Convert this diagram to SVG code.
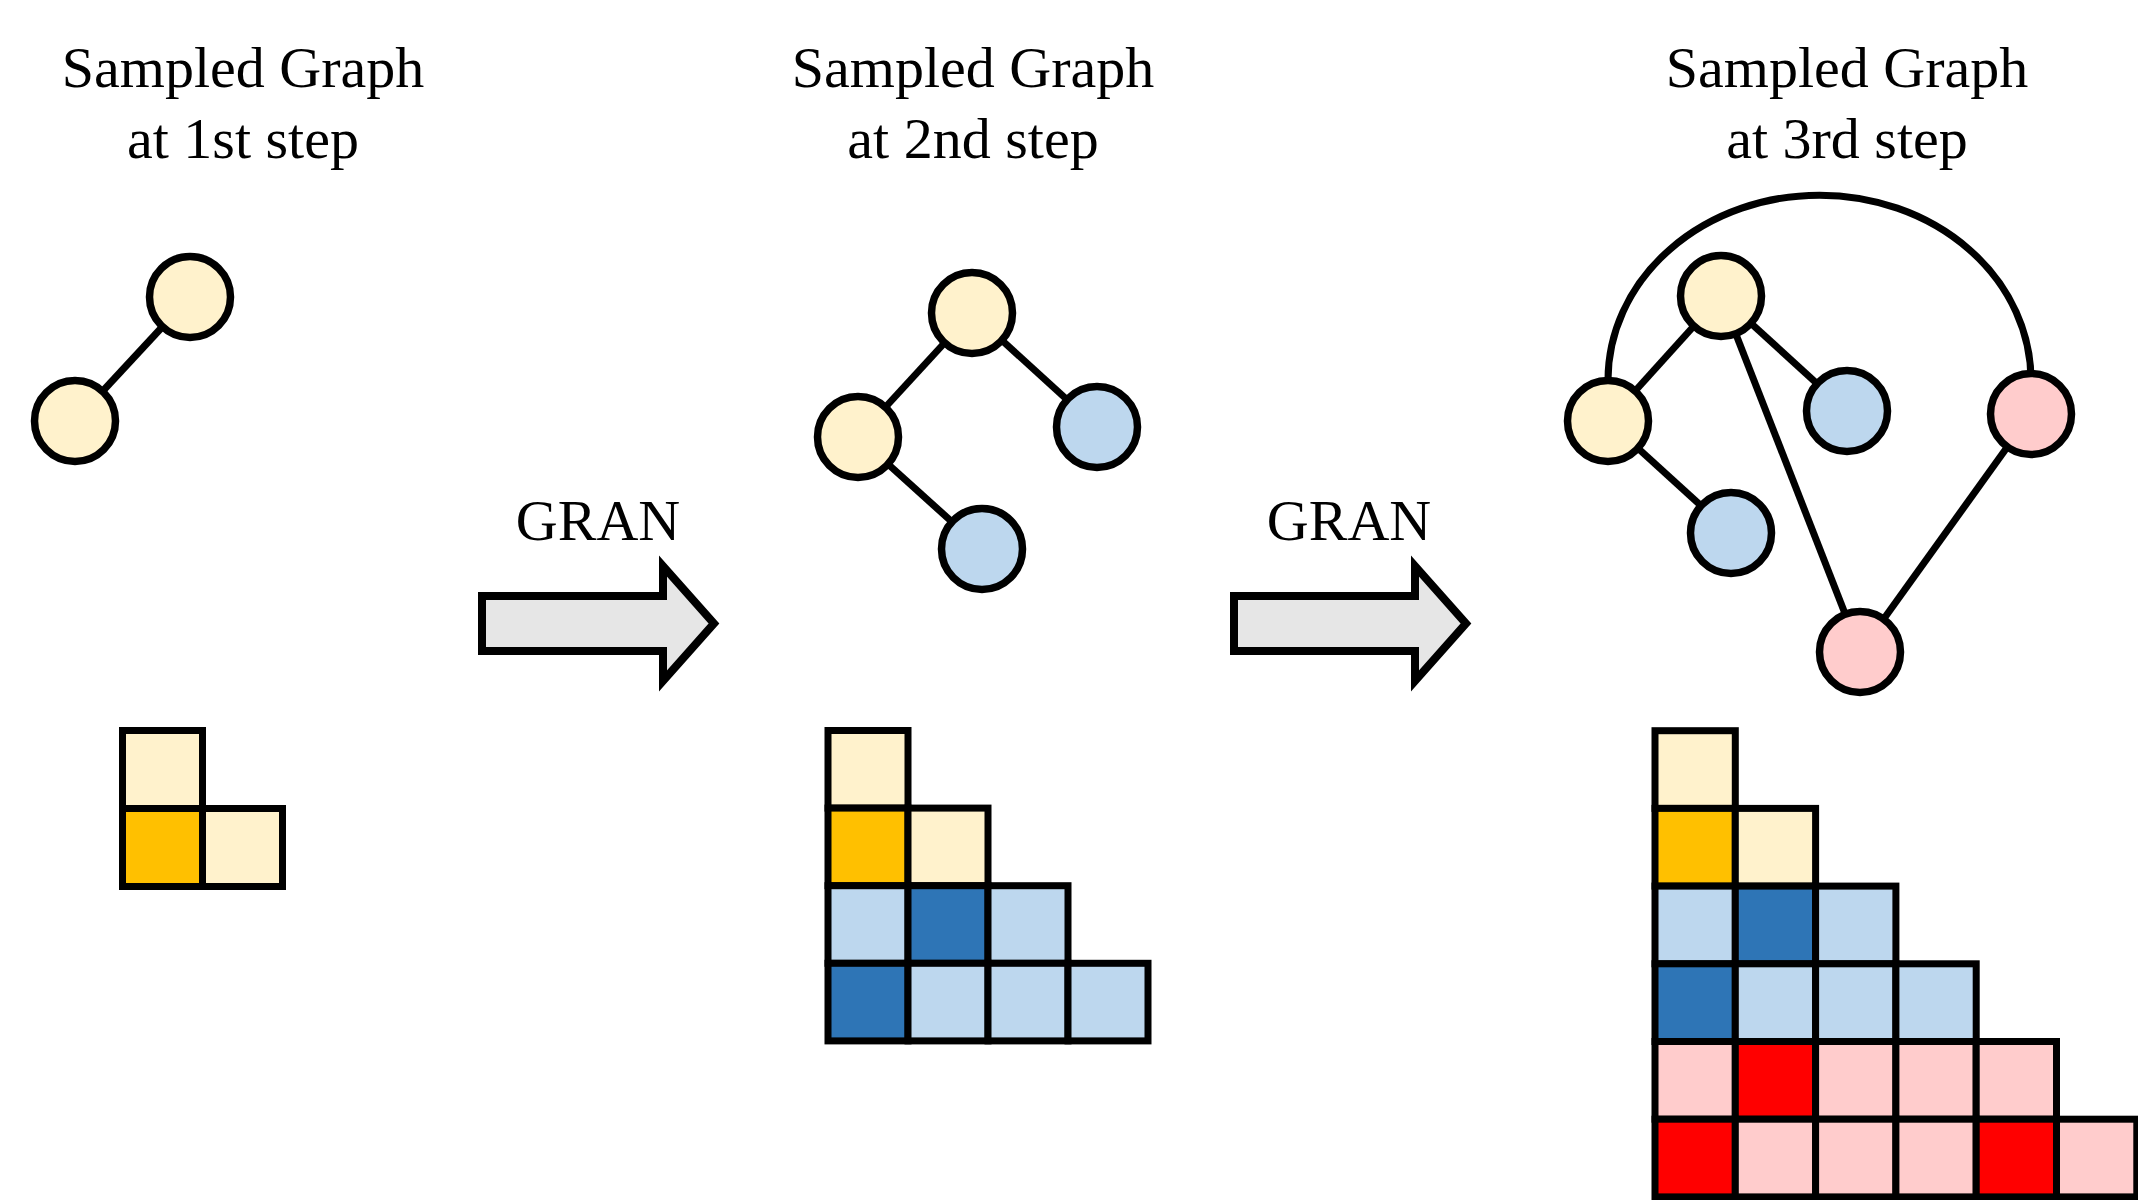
<svg xmlns="http://www.w3.org/2000/svg" width="2138" height="1200" viewBox="0 0 2138 1200">
<style>
text{font-family:"Liberation Serif","Times New Roman",serif;font-size:58px;fill:#000;text-anchor:middle}
.n{stroke:#000;stroke-width:7.5}
.y{fill:#FFF2CC}.b{fill:#BDD7EE}.p{fill:#FFCCCC}
.e{stroke:#000;stroke-width:7;fill:none}
.c{stroke:#000;stroke-width:7}
.ly{fill:#FFF2CC}.o{fill:#FFC000}.lb{fill:#BDD7EE}.db{fill:#2E75B6}.lp{fill:#FFCCCC}.r{fill:#FF0000}
.arr{fill:#E6E6E6;stroke:#000;stroke-width:8;stroke-linejoin:miter}
</style>
<rect width="2138" height="1200" fill="#fff"/>
<g id="titles">
<text x="243" y="87">Sampled Graph</text>
<text x="243" y="158">at 1st step</text>
<text x="973" y="87">Sampled Graph</text>
<text x="973" y="158">at 2nd step</text>
<text x="1847" y="87">Sampled Graph</text>
<text x="1847" y="158">at 3rd step</text>
</g>
<g id="connectors">
<line class="e" x1="190" y1="297" x2="75" y2="421"/>
<line class="e" x1="972" y1="313" x2="858" y2="437"/>
<line class="e" x1="972" y1="313" x2="1097" y2="427"/>
<line class="e" x1="858" y1="437" x2="982" y2="549"/>
<path class="e" d="M1608 421 L1608 380 A211.5 185 0 0 1 2031 380 L2031 414"/>
<line class="e" x1="1721" y1="296" x2="1608" y2="421"/>
<line class="e" x1="1721" y1="296" x2="1847" y2="411"/>
<line class="e" x1="1608" y1="421" x2="1731" y2="533"/>
<line class="e" x1="1721" y1="296" x2="1860" y2="652"/>
<line class="e" x1="2031" y1="414" x2="1860" y2="652"/>
</g>
<g id="graph1">
<circle id="g1n1" class="n y" cx="190" cy="297" r="40.5"/>
<circle id="g1n2" class="n y" cx="75" cy="421" r="40.5"/>
</g>
<g id="graph2">
<circle id="g2n1" class="n y" cx="972" cy="313" r="40.5"/>
<circle id="g2n2" class="n y" cx="858" cy="437" r="40.5"/>
<circle id="g2n3" class="n b" cx="1097" cy="427" r="40.5"/>
<circle id="g2n4" class="n b" cx="982" cy="549" r="40.5"/>
</g>
<g id="graph3">
<circle id="g3n1" class="n y" cx="1721" cy="296" r="40.5"/>
<circle id="g3n2" class="n y" cx="1608" cy="421" r="40.5"/>
<circle id="g3n3" class="n b" cx="1847" cy="411" r="40.5"/>
<circle id="g3n4" class="n b" cx="1731" cy="533" r="40.5"/>
<circle id="g3n5" class="n p" cx="2031" cy="414" r="40.5"/>
<circle id="g3n6" class="n p" cx="1860" cy="652" r="40.5"/>
</g>
<g id="arrow1">
<path class="arr" d="M482 596 L663 596 L663 566 L714 623.5 L663 681 L663 651 L482 651 Z"/>
<text x="598" y="540">GRAN</text>
</g>
<g id="arrow2">
<path class="arr" d="M1234 596 L1415 596 L1415 566 L1466 623.5 L1415 681 L1415 651 L1234 651 Z"/>
<text x="1349" y="540">GRAN</text>
</g>
<g id="matrix1" class="c">
<rect class="ly" x="122.5" y="730.5" width="80" height="78"/>
<rect class="o" x="122.5" y="808.5" width="80" height="78"/>
<rect class="ly" x="202.5" y="808.5" width="80" height="78"/>
</g>
<g id="matrix2" class="c">
<rect class="ly" x="828" y="730.5" width="80" height="77.6"/>
<rect class="o" x="828" y="808.1" width="80" height="77.6"/>
<rect class="ly" x="908" y="808.1" width="80" height="77.6"/>
<rect class="lb" x="828" y="885.7" width="80" height="77.6"/>
<rect class="db" x="908" y="885.7" width="80" height="77.6"/>
<rect class="lb" x="988" y="885.7" width="80" height="77.6"/>
<rect class="db" x="828" y="963.3" width="80" height="77.6"/>
<rect class="lb" x="908" y="963.3" width="80" height="77.6"/>
<rect class="lb" x="988" y="963.3" width="80" height="77.6"/>
<rect class="lb" x="1068" y="963.3" width="80" height="77.6"/>
</g>
<g id="matrix3" class="c">
<rect class="ly" x="1655" y="730.7" width="80.3" height="77.7"/>
<rect class="o" x="1655" y="808.4" width="80.3" height="77.7"/>
<rect class="ly" x="1735.3" y="808.4" width="80.3" height="77.7"/>
<rect class="lb" x="1655" y="886.1" width="80.3" height="77.7"/>
<rect class="db" x="1735.3" y="886.1" width="80.3" height="77.7"/>
<rect class="lb" x="1815.6" y="886.1" width="80.3" height="77.7"/>
<rect class="db" x="1655" y="963.8" width="80.3" height="77.7"/>
<rect class="lb" x="1735.3" y="963.8" width="80.3" height="77.7"/>
<rect class="lb" x="1815.6" y="963.8" width="80.3" height="77.7"/>
<rect class="lb" x="1895.9" y="963.8" width="80.3" height="77.7"/>
<rect class="lp" x="1655" y="1041.5" width="80.3" height="77.7"/>
<rect class="r" x="1735.3" y="1041.5" width="80.3" height="77.7"/>
<rect class="lp" x="1815.6" y="1041.5" width="80.3" height="77.7"/>
<rect class="lp" x="1895.9" y="1041.5" width="80.3" height="77.7"/>
<rect class="lp" x="1976.2" y="1041.5" width="80.3" height="77.7"/>
<rect class="r" x="1655" y="1119.2" width="80.3" height="77.7"/>
<rect class="lp" x="1735.3" y="1119.2" width="80.3" height="77.7"/>
<rect class="lp" x="1815.6" y="1119.2" width="80.3" height="77.7"/>
<rect class="lp" x="1895.9" y="1119.2" width="80.3" height="77.7"/>
<rect class="r" x="1976.2" y="1119.2" width="80.3" height="77.7"/>
<rect class="lp" x="2056.5" y="1119.2" width="80.3" height="77.7"/>
</g>
</svg>
